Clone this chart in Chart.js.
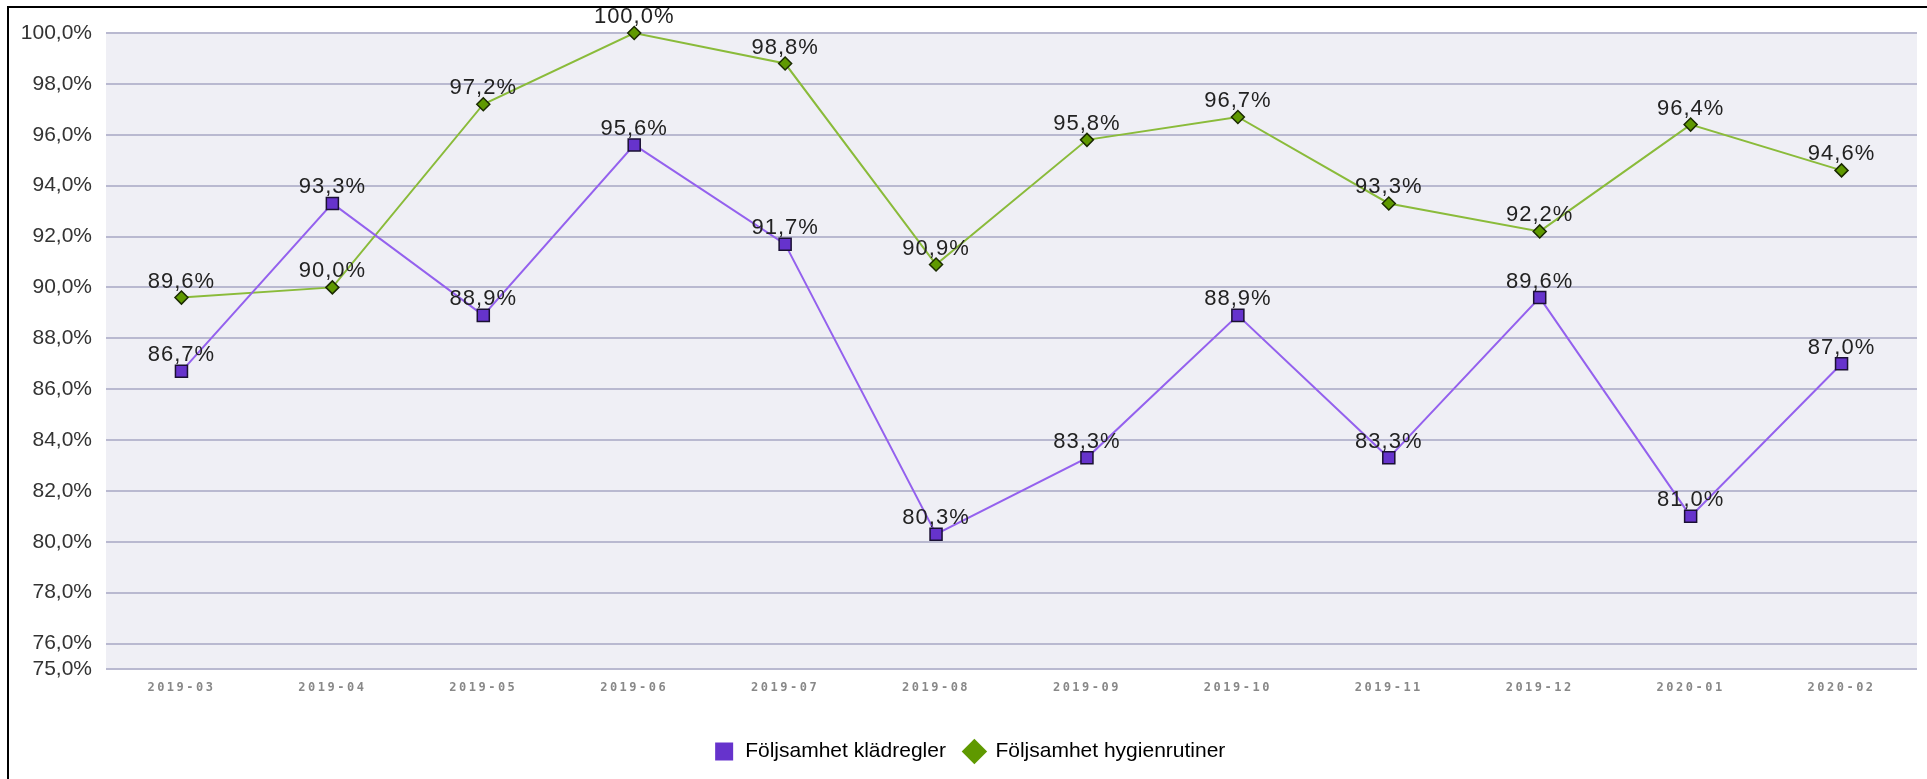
<!DOCTYPE html>
<html>
<head>
<meta charset="utf-8">
<script src="https://cdn.jsdelivr.net/npm/chart.js@4/dist/chart.umd.min.js"></script>
<style>
  html, body { margin: 0; padding: 0; background: #fff; overflow: hidden; }
  #wrap { position: absolute; left: 0; top: 0; width: 1927px; height: 779px; }
  #frame { position: absolute; left: 7px; top: 6px; width: 2000px; height: 900px;
           border-top: 2px solid #000; border-left: 2px solid #000; }
</style>
</head>
<body>
<div id="frame"></div>
<div id="wrap"><canvas id="chart"></canvas></div>
<script>
const manader = ['2019-03', '2019-04', '2019-05', '2019-06', '2019-07', '2019-08',
                 '2019-09', '2019-10', '2019-11', '2019-12', '2020-01', '2020-02'];
const kladregler = [86.7, 93.3, 88.9, 95.6, 91.7, 80.3, 83.3, 88.9, 83.3, 89.6, 81.0, 87.0];
const hygienrutiner = [89.6, 90.0, 97.2, 100.0, 98.8, 90.9, 95.8, 96.7, 93.3, 92.2, 96.4, 94.6];
const yTicks = [75, 76, 78, 80, 82, 84, 86, 88, 90, 92, 94, 96, 98, 100];

const procent = v => v.toFixed(1).replace('.', ',') + '%';

Chart.defaults.font.family = "'Liberation Sans', Arial, sans-serif";
Chart.defaults.font.size = 21;
Chart.defaults.color = '#333';

// bakgrund i ritytan + etiketter ovanför punkterna
const ritPlugin = {
  id: 'rit',
  beforeDraw(chart) {
    const { ctx, chartArea: a } = chart;
    ctx.save();
    ctx.fillStyle = '#efeff5';
    ctx.fillRect(a.left, a.top, a.right - a.left, a.bottom - a.top);
    ctx.restore();

    // glesare bokstäver på x-axeln
    const x = chart.scales.x;
    if (!x._glest) {
      const orig = x.drawLabels;
      x.drawLabels = function (area) {
        this.ctx.save();
        this.ctx.letterSpacing = '2.5px';
        orig.call(this, area);
        this.ctx.restore();
      };
      x._glest = true;
    }
  },
  afterDatasetsDraw(chart) {
    const ctx = chart.ctx;
    ctx.save();
    ctx.font = "22px 'Liberation Sans', Arial, sans-serif";
    ctx.letterSpacing = '1px';
    ctx.fillStyle = '#222';
    ctx.textAlign = 'center';
    ctx.textBaseline = 'alphabetic';
    chart.data.datasets.forEach((ds, i) => {
      chart.getDatasetMeta(i).data.forEach((pt, j) => {
        ctx.fillText(procent(ds.data[j]), pt.x, pt.y - 10);
      });
    });
    ctx.restore();
  }
};

new Chart(document.getElementById('chart'), {
  type: 'line',
  data: {
    labels: manader,
    datasets: [
      {
        label: 'Följsamhet klädregler',
        data: kladregler,
        borderColor: '#9461ee',
        backgroundColor: '#6633cc',
        borderWidth: 2,
        pointStyle: 'rect',
        pointRadius: 8.5,
        pointHoverRadius: 8.5,
        pointBorderColor: '#1a1033',
        pointBorderWidth: 1.5,
        tension: 0,
        clip: false
      },
      {
        label: 'Följsamhet hygienrutiner',
        data: hygienrutiner,
        borderColor: '#8abb3a',
        backgroundColor: '#5f9900',
        borderWidth: 2,
        pointStyle: 'rectRot',
        pointRadius: 6.5,
        pointHoverRadius: 6.5,
        pointBorderColor: '#1a2a00',
        pointBorderWidth: 1.5,
        tension: 0,
        clip: false
      }
    ]
  },
  options: {
    responsive: true,
    maintainAspectRatio: false,
    animation: false,
    layout: { padding: { left: 20, right: 8, top: 33, bottom: 7 } },
    plugins: {
      tooltip: { enabled: false },
      legend: {
        position: 'bottom',
        labels: {
          usePointStyle: true,
          boxHeight: 18,
          padding: 18,
          color: '#111',
          font: { size: 21 },
          generateLabels(chart) {
            return chart.data.datasets.map((ds, i) => ({
              text: ds.label,
              fillStyle: ds.backgroundColor,
              strokeStyle: ds.backgroundColor,
              lineWidth: 0,
              pointStyle: ds.pointStyle,
              datasetIndex: i,
              hidden: false
            }));
          }
        }
      }
    },
    scales: {
      x: {
        offset: true,
        grid: { display: false, drawTicks: false, offset: true },
        border: { display: false },
        ticks: {
          padding: 12,
          color: '#888',
          font: { family: "'DejaVu Sans Mono', monospace", size: 12, weight: 'bold' },
          maxRotation: 0
        },
        afterFit(scale) { scale.height = 54; }
      },
      y: {
        min: 75,
        max: 100,
        grid: { color: '#b9b9d0', lineWidth: 2, drawTicks: false },
        border: { display: false },
        ticks: {
          padding: 14,
          color: '#333',
          font: { size: 21 },
          callback: v => procent(v)
        },
        afterBuildTicks(scale) { scale.ticks = yTicks.map(v => ({ value: v })); },
        afterFit(scale) { scale.width = 86; }
      }
    }
  },
  plugins: [ritPlugin]
});
</script>
</body>
</html>
